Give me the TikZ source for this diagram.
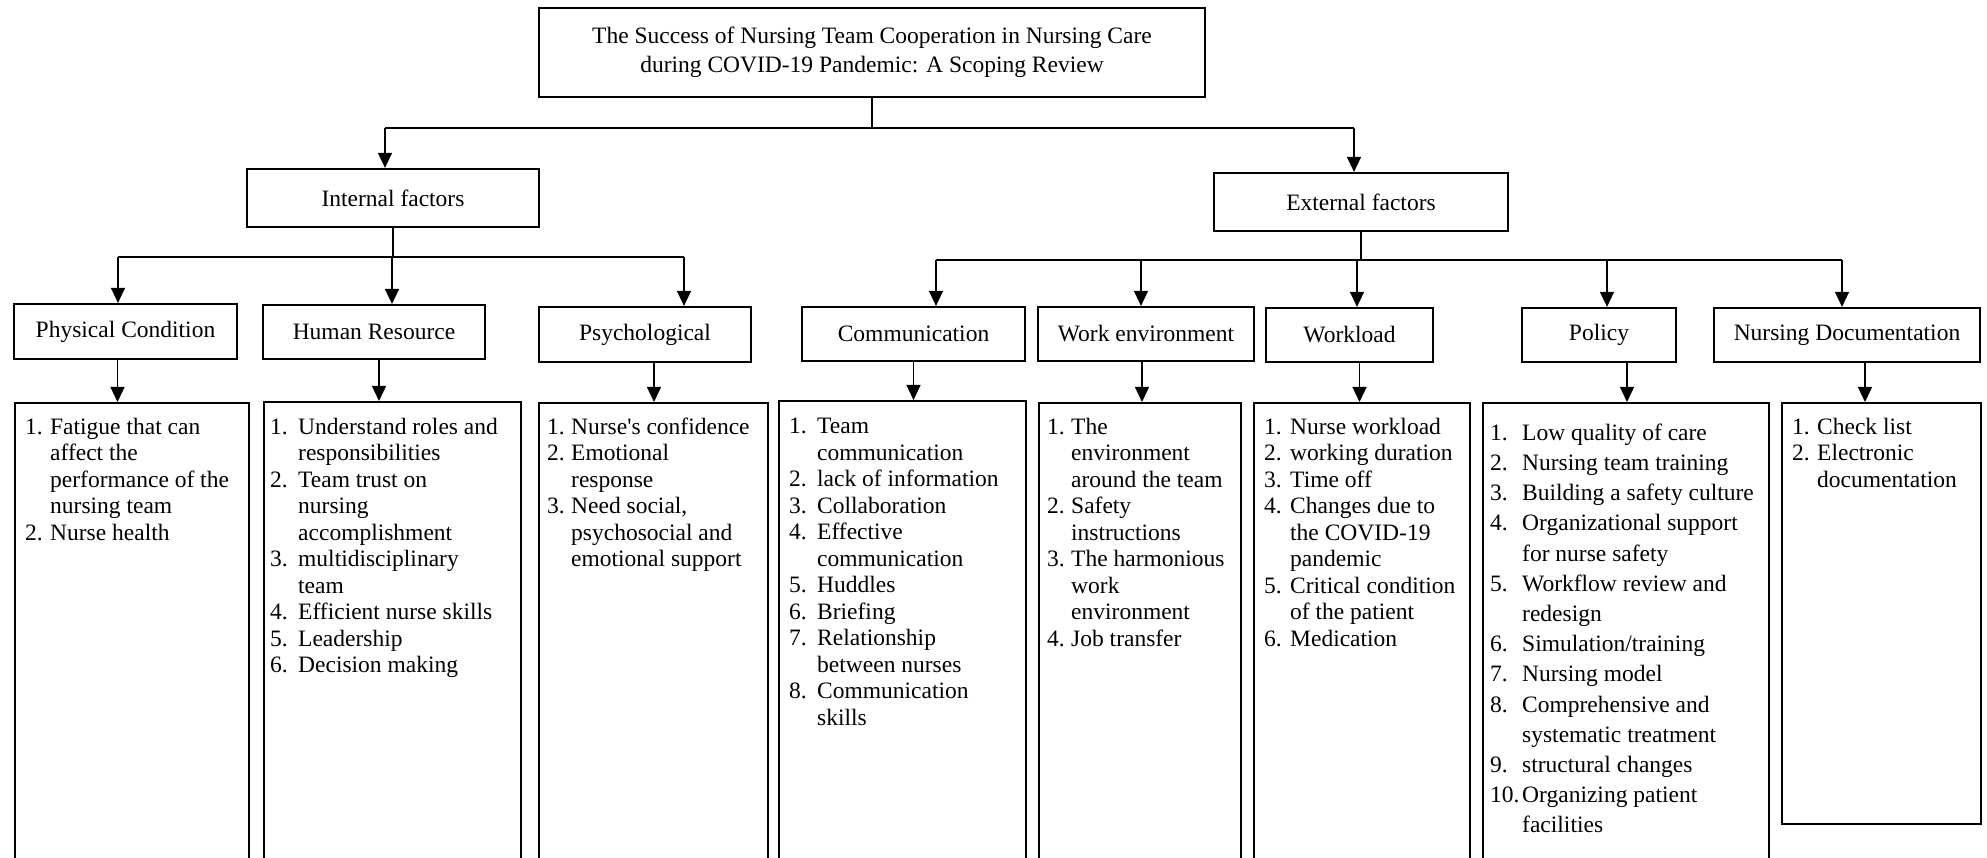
\documentclass[tikz,border=0pt]{standalone}
\usepackage{fontspec}
\setmainfont{Liberation Serif}[Ligatures=TeXOff]
\usetikzlibrary{arrows.meta}
\newlength{\numw}
\newcommand{\itm}[2]{\strut\makebox[\numw][l]{#1}#2}
\newcommand{\cnt}[1]{\strut\hspace*{\numw}#1}
\begin{document}
\begin{tikzpicture}[x=1pt,y=-1pt,
  hbox/.style={draw,line width=2.2pt,inner sep=0pt,font=\fontsize{23.5}{26.5}\selectfont},
  cbox/.style={draw,line width=2.2pt,inner sep=0pt,anchor=north west},
  ltxt/.style={anchor=north west,inner sep=0pt,align=left,font={\fontsize{23.5}{26.5}\selectfont\setlength{\numw}{#1}}},
  ptxt/.style={anchor=north west,inner sep=0pt,align=left,font={\fontsize{23.5}{30.2}\selectfont\setlength{\numw}{#1}}},
  arr/.style={-{Triangle[length=15pt,width=14pt]},line width=1.4pt},
  bar/.style={line width=2.4pt}]
\useasboundingbox (0,0) rectangle (1987,858);

% title
\node[hbox,minimum width=666pt,minimum height=89pt,align=center,font=\fontsize{23.5}{29.5}\selectfont] (title) at (872,52.5)
  {The Success of Nursing Team Cooperation in Nursing Care\\during COVID-19 Pandemic: A Scoping Review};

% level 1
\node[hbox,minimum width=292pt,minimum height=58pt] (intf) at (393,198) {Internal factors};
\node[hbox,minimum width=294pt,minimum height=58pt] (extf) at (1361,202) {External factors};

% level 2
\node[hbox,minimum width=223pt,minimum height=55pt] (phys) at (125.5,331.5) {Physical Condition};
\node[hbox,minimum width=222pt,minimum height=54pt] (hr) at (374,332) {Human Resource};
\node[hbox,minimum width=212pt,minimum height=55pt] (psy) at (645,334.5) {Psychological};
\node[hbox,minimum width=223pt,minimum height=54pt] (com) at (913.5,334) {Communication};
\node[hbox,minimum width=216pt,minimum height=54pt] (wenv) at (1146,334) {Work environment};
\node[hbox,minimum width=167pt,minimum height=54pt] (wl) at (1349.5,335) {Workload};
\node[hbox,minimum width=154pt,minimum height=54pt] (pol) at (1599,335) {Policy};
\node[hbox,minimum width=266pt,minimum height=54pt] (nd) at (1847,335) {Nursing Documentation};

% content boxes
\node[cbox,minimum width=234pt,minimum height=478pt] (physB) at (14,402) {};
\node[cbox,minimum width=257pt,minimum height=479pt] (hrB) at (263,401) {};
\node[cbox,minimum width=229pt,minimum height=478pt] (psyB) at (538,402) {};
\node[cbox,minimum width=247pt,minimum height=480pt] (comB) at (778,400) {};
\node[cbox,minimum width=202pt,minimum height=478pt] (wenvB) at (1038,402) {};
\node[cbox,minimum width=216pt,minimum height=478pt] (wlB) at (1253,402) {};
\node[cbox,minimum width=286pt,minimum height=478pt] (polB) at (1482,402) {};
\node[cbox,minimum width=199pt,minimum height=421pt] (ndB) at (1781,402) {};

% content texts
\node[ltxt=25pt] (physT) at (25,415.45) {\itm{1.}{Fatigue that can}\\ \cnt{affect the}\\ \cnt{performance of the}\\ \cnt{nursing team}\\ \itm{2.}{Nurse health}};
\node[ltxt=28pt] (hrT) at (270,415.45) {\itm{1.}{Understand roles and}\\ \cnt{responsibilities}\\ \itm{2.}{Team trust on}\\ \cnt{nursing}\\ \cnt{accomplishment}\\ \itm{3.}{multidisciplinary}\\ \cnt{team}\\ \itm{4.}{Efficient nurse skills}\\ \itm{5.}{Leadership}\\ \itm{6.}{Decision making}};
\node[ltxt=24pt] (psyT) at (547,415.45) {\itm{1.}{Nurse's confidence}\\ \itm{2.}{Emotional}\\ \cnt{response}\\ \itm{3.}{Need social,}\\ \cnt{psychosocial and}\\ \cnt{emotional support}};
\node[ltxt=28pt] (comT) at (789,414.75) {\itm{1.}{Team}\\ \cnt{communication}\\ \itm{2.}{lack of information}\\ \itm{3.}{Collaboration}\\ \itm{4.}{Effective}\\ \cnt{communication}\\ \itm{5.}{Huddles}\\ \itm{6.}{Briefing}\\ \itm{7.}{Relationship}\\ \cnt{between nurses}\\ \itm{8.}{Communication}\\ \cnt{skills}};
\node[ltxt=24pt] (wenvT) at (1047,415.45) {\itm{1.}{The}\\ \cnt{environment}\\ \cnt{around the team}\\ \itm{2.}{Safety}\\ \cnt{instructions}\\ \itm{3.}{The harmonious}\\ \cnt{work}\\ \cnt{environment}\\ \itm{4.}{Job transfer}};
\node[ltxt=26pt] (wlT) at (1264,415.45) {\itm{1.}{Nurse workload}\\ \itm{2.}{working duration}\\ \itm{3.}{Time off}\\ \itm{4.}{Changes due to}\\ \cnt{the COVID-19}\\ \cnt{pandemic}\\ \itm{5.}{Critical condition}\\ \cnt{of the patient}\\ \itm{6.}{Medication}};
\node[ptxt=32pt] (polT) at (1490,418.86) {\itm{1.}{Low quality of care}\\ \itm{2.}{Nursing team training}\\ \itm{3.}{Building a safety culture}\\ \itm{4.}{Organizational support}\\ \cnt{for nurse safety}\\ \itm{5.}{Workflow review and}\\ \cnt{redesign}\\ \itm{6.}{Simulation/training}\\ \itm{7.}{Nursing model}\\ \itm{8.}{Comprehensive and}\\ \cnt{systematic treatment}\\ \itm{9.}{structural changes}\\ \itm{10.}{Organizing patient}\\ \cnt{facilities}};
\node[ltxt=25pt] (ndT) at (1792,415.45) {\itm{1.}{Check list}\\ \itm{2.}{Electronic}\\ \cnt{documentation}};

% top connectors
\coordinate (hL) at (385,128);
\coordinate (hR) at (1354,128);
\draw[bar] (title.south) -- (title.south |- hL);
\draw[bar] (hL) -- (hR);
\draw[arr] (hL) -- (hL |- intf.north);
\draw[arr] (hR) -- (hR |- extf.north);

% internal connectors
\coordinate (iL) at (118,257);
\coordinate (iR) at (684,257);
\coordinate (iM) at (392,257);
\draw[bar] (intf.south) -- (intf.south |- iL);
\draw[bar] (iL) -- (iR);
\draw[arr] (iL) -- (iL |- phys.north);
\draw[arr] (iM) -- (iM |- hr.north);
\draw[arr] (iR) -- (iR |- psy.north);

% external connectors
\coordinate (eL) at (936,260);
\coordinate (eR) at (1842,260);
\coordinate (e2) at (1141,260);
\coordinate (e3) at (1357,260);
\coordinate (e4) at (1607,260);
\draw[bar] (extf.south) -- (extf.south |- eL);
\draw[bar] (eL) -- (eR);
\draw[arr] (eL) -- (eL |- com.north);
\draw[arr] (e2) -- (e2 |- wenv.north);
\draw[arr] (e3) -- (e3 |- wl.north);
\draw[arr] (e4) -- (e4 |- pol.north);
\draw[arr] (eR) -- (eR |- nd.north);

% header -> content arrows
\draw[arr] ([xshift=-8pt]phys.south) -- ([xshift=-8pt]phys.south |- physB.north);
\draw[arr] ([xshift=5pt]hr.south) -- ([xshift=5pt]hr.south |- hrB.north);
\draw[arr] ([xshift=9pt]psy.south) -- ([xshift=9pt]psy.south |- psyB.north);
\draw[arr] (com.south) -- (com.south |- comB.north);
\draw[arr] ([xshift=-4pt]wenv.south) -- ([xshift=-4pt]wenv.south |- wenvB.north);
\draw[arr] ([xshift=10pt]wl.south) -- ([xshift=10pt]wl.south |- wlB.north);
\draw[arr] ([xshift=28pt]pol.south) -- ([xshift=28pt]pol.south |- polB.north);
\draw[arr] ([xshift=18pt]nd.south) -- ([xshift=18pt]nd.south |- ndB.north);
\end{tikzpicture}
\end{document}
